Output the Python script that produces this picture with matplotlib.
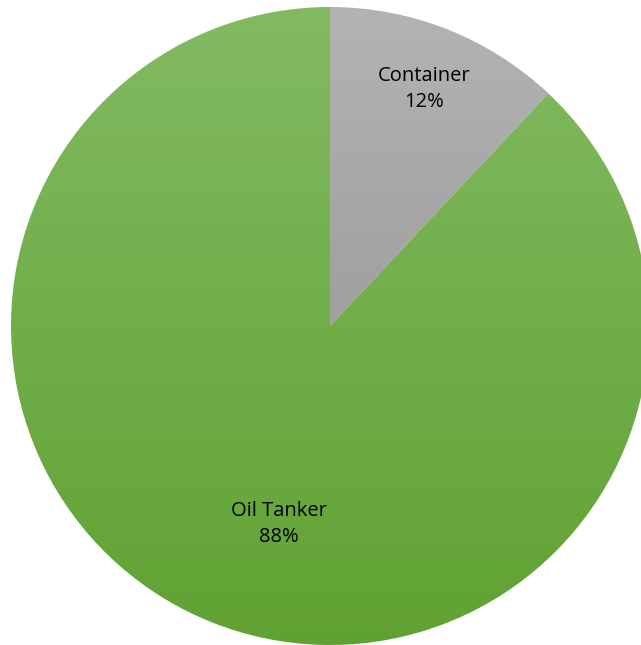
import numpy as np
import matplotlib; matplotlib.use("Agg")
import matplotlib.pyplot as plt
from matplotlib.colors import LinearSegmentedColormap

categories = ["Container", "Oil Tanker"]
shares = [12, 88]
# gradient top -> bottom for each slice
grad_colors = [("#b3b3b3", "#8c8c8c"), ("#82ba62", "#60a232")]
label_dist = [0.80, 0.64]
label_turn = [0, 7]  # small nudge in degrees, like Excel's best-fit labels

W, H = 641, 645
cx, cy, r = 330, 645 - 326, 319

fig = plt.figure(figsize=(W / 100, H / 100), dpi=100)
ax = fig.add_axes([0, 0, 1, 1])

wedges, _ = ax.pie(shares, startangle=90, counterclock=False, center=(cx, cy),
                   radius=r, colors=["none"] * len(shares),
                   wedgeprops=dict(linewidth=0), frame=True)

grad = np.linspace(0, 1, 256).reshape(-1, 1)
for w, (c_top, c_bot) in zip(wedges, grad_colors):
    cmap = LinearSegmentedColormap.from_list("g", [c_top, c_bot])
    im = ax.imshow(grad, cmap=cmap, aspect="auto",
                   extent=(cx - r, cx + r, cy - r, cy + r), origin="upper",
                   zorder=1)
    im.set_clip_path(w)

total = sum(shares)
for w, name, val, d, turn in zip(wedges, categories, shares, label_dist, label_turn):
    mid = np.deg2rad((w.theta1 + w.theta2) / 2 + turn)
    x = cx + d * r * np.cos(mid)
    y = cy + d * r * np.sin(mid)
    ax.text(x, y, f"{name}\n{val / total * 100:.0f}%", ha="center", va="center",
            fontsize=14.5, family="Open Sans", color="black", linespacing=1.4,
            zorder=3)

ax.set_xlim(0, W)
ax.set_ylim(0, H)
ax.set_aspect("equal")
ax.axis("off")
fig.savefig("out.png", dpi=100)
